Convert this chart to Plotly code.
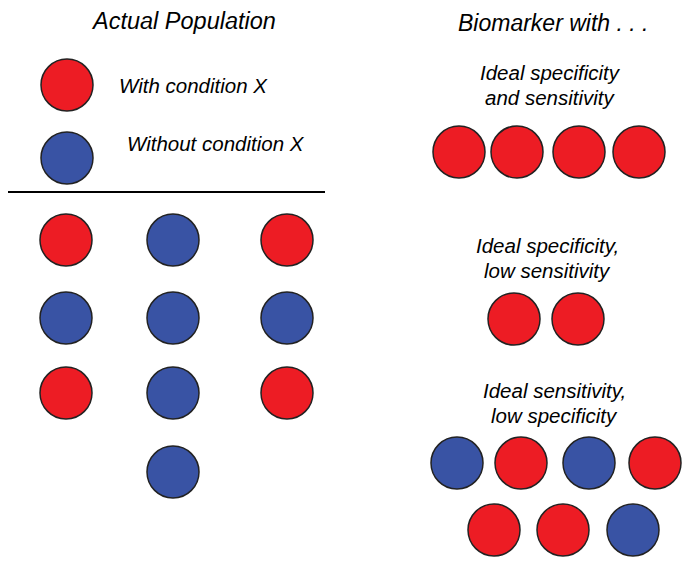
import plotly.graph_objects as go

# ---- data (1 = with condition X, 0 = without) ----
population_cols = [
    [1, 0, 1],        # left column, top to bottom
    [0, 0, 0, 0],     # middle column
    [1, 0, 1],        # right column
]
ideal_both = [1, 1, 1, 1]
ideal_spec_low_sens = [1, 1]
ideal_sens_low_spec_row1 = [0, 1, 0, 1]
ideal_sens_low_spec_row2 = [1, 1, 0]

legend_labels = ["With condition X", "Without condition X"]
titles = ["Actual Population", "Biomarker with . . ."]
group_labels = [["Ideal specificity", "and sensitivity"],
                ["Ideal specificity,", "low sensitivity"],
                ["Ideal sensitivity,", "low specificity"]]

RED = "#ED1C24"
BLUE = "#3953A4"
EDGE = "#222222"
FONT = "Liberation Sans, Arial, sans-serif"

# ---- layout positions (pixel-like coordinates) ----
pop_col_x = [66, 173, 287]
pop_row_y = [240, 318, 393, 472]
ideal_both_x = [459, 517, 579, 639]; ideal_both_y = 152
spec_x = [514, 578]; spec_y = 319
sens1_x = [457, 521, 589, 655]; sens1_y = 463
sens2_x = [494, 563, 633]; sens2_y = 530
legend_x = 67; legend_y = [85, 158]

xs, ys, cs = [], [], []
def add(xlist, ylist, vals):
    for x, y, v in zip(xlist, ylist, vals):
        xs.append(x); ys.append(y); cs.append(RED if v == 1 else BLUE)

for ci, col in enumerate(population_cols):
    add([pop_col_x[ci]] * len(col), pop_row_y[:len(col)], col)
add(ideal_both_x, [ideal_both_y] * 4, ideal_both)
add(spec_x, [spec_y] * 2, ideal_spec_low_sens)
add(sens1_x, [sens1_y] * 4, ideal_sens_low_spec_row1)
add(sens2_x, [sens2_y] * 3, ideal_sens_low_spec_row2)
add([legend_x] * 2, legend_y, [1, 0])

fig = go.Figure()
fig.add_trace(go.Scatter(
    x=xs, y=ys, mode="markers",
    marker=dict(size=52, color=cs, line=dict(color=EDGE, width=1.5)),
    hoverinfo="skip", showlegend=False))

fig.add_shape(type="line", x0=8, x1=325, y0=192, y1=192,
              line=dict(color="black", width=2))

def text(x, y, s, size, xanchor="center"):
    fig.add_annotation(x=x, y=y, text="<i>" + s + "</i>", showarrow=False,
                       xanchor=xanchor, yanchor="middle",
                       font=dict(family=FONT, size=size, color="black"))

text(183, 21, titles[0], 23.5)
text(553, 23, titles[1], 23)
text(117, 85, legend_labels[0], 20.5, "left")
text(125, 143, legend_labels[1], 20.5, "left")
for (cx, y0), lines in zip([(550, 72), (547, 245), (554, 390)], group_labels):
    for k, line in enumerate(lines):
        text(cx, y0 + 25 * k, line, 20.5)

fig.update_layout(
    width=683, height=573, margin=dict(l=0, r=0, t=0, b=0),
    plot_bgcolor="white", paper_bgcolor="white",
    xaxis=dict(range=[0, 683], visible=False, fixedrange=True),
    yaxis=dict(range=[573, 0], visible=False, fixedrange=True),
)
fig.write_html("out.html", config={"displayModeBar": False},
               post_script="document.body.style.margin='0';")
